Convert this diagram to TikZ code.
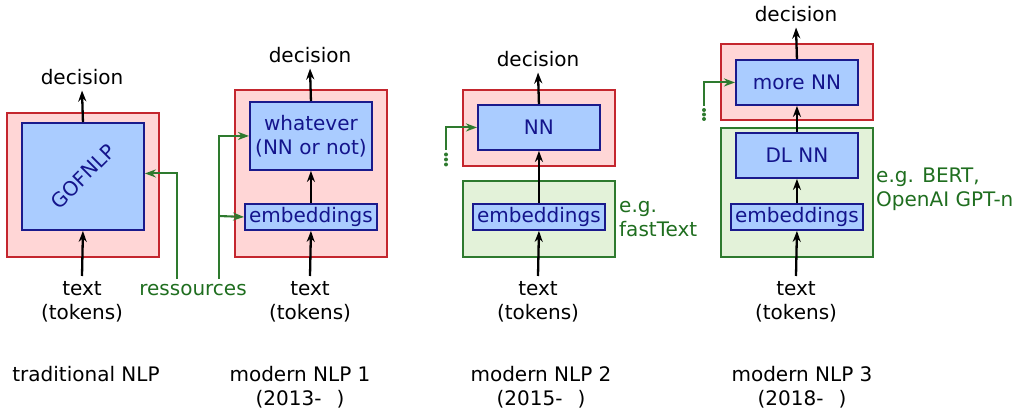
\documentclass[tikz,border=0pt]{standalone}
\usepackage{fontspec}
\setmainfont{DejaVu Sans}
\usetikzlibrary{arrows.meta,calc}
\definecolor{redF}{HTML}{FFD6D6}
\definecolor{redB}{HTML}{C4262E}
\definecolor{blueF}{HTML}{AACCFF}
\definecolor{blueB}{HTML}{1A1A8C}
\definecolor{blueT}{HTML}{14148C}
\definecolor{greenF}{HTML}{E3F2D9}
\definecolor{greenB}{HTML}{2E7A2E}
\definecolor{greenT}{HTML}{1F6E1F}
\tikzset{
  redbox/.style={draw=redB, fill=redF, line width=2pt, inner sep=0pt, anchor=north west},
  greenbox/.style={draw=greenB, fill=greenF, line width=2pt, inner sep=0pt, anchor=north west},
  bluebox/.style={draw=blueB, fill=blueF, line width=1.9pt, inner sep=0pt, anchor=north west,
    text=blueT, align=center},
  lbl/.style={inner sep=5pt, align=center},
  glbl/.style={inner sep=0pt, align=left, text=greenT, anchor=base west},
  flow/.style={line width=2.3pt, -{Stealth[length=11pt,width=8pt,inset=3.5pt]}},
  gflow/.style={line width=2.1pt, draw=greenB, -{Stealth[length=11pt,width=8pt,inset=3.5pt]}},
  gdot/.style={fill=greenB, draw=none},
}
\begin{document}
\begin{tikzpicture}[x=1pt,y=-1pt,font=\fontsize{20}{24}\selectfont]
\useasboundingbox (0,0) rectangle (1015,409);

% ---------- traditional NLP ----------
\node[redbox, minimum width=152pt, minimum height=144pt] (red1) at (6,112) {};
\node[bluebox, minimum width=122pt, minimum height=107pt] (blue1) at (21,122) {};
\node[rotate=45, text=blueT, inner sep=0pt] (gof) at (blue1.center) {GOFNLP};
\node[lbl, anchor=base] (dec1) at (82,85) {decision};
\node[lbl, anchor=north] (t1) at (82,276) {text\\(tokens)};
\draw[flow] (t1.north) -- (blue1.south);
\draw[flow] (blue1.north) -- (dec1.south);

% resources feeding the boxes
\node[inner sep=0pt, text=greenT, anchor=base] (ress) at (193,295) {ressources};
\coordinate (r1) at (177,279);
\coordinate (r2) at (219,279);
\coordinate (rb) at (219,216);

% ---------- modern NLP 1 ----------
\node[redbox, minimum width=152pt, minimum height=167pt] (red2) at (234,89) {};
\node[bluebox, minimum width=122pt, minimum height=68pt] (what2) at (249,101) {whatever\\(NN or not)};
\node[bluebox, minimum width=132pt, minimum height=26pt] (emb2) at (244,203) {embeddings};
\node[lbl, anchor=base] (dec2) at (310,63) {decision};
\node[lbl, anchor=north] (t2) at (310,276) {text\\(tokens)};
\draw[flow] (t2.north) -- (emb2.south);
\draw[flow] (emb2.north) -- (what2.south);
\draw[flow] (what2.north) -- (dec2.south);

\draw[gflow] (r1) |- ([yshift=3pt]blue1.east);
\draw[gflow] (r2) |- (what2.west);
\draw[gflow] (rb) -- (emb2.west);

% ---------- modern NLP 2 ----------
\node[redbox, minimum width=152pt, minimum height=76pt] (red3) at (462,89) {};
\node[bluebox, minimum width=122pt, minimum height=45pt] (nn3) at (477,104) {NN};
\node[greenbox, minimum width=152pt, minimum height=76pt] (green3) at (462,180) {};
\node[bluebox, minimum width=132pt, minimum height=26pt] (emb3) at (472,203) {embeddings};
\node[lbl, anchor=base] (dec3) at (538,67) {decision};
\node[lbl, anchor=north] (t3) at (538,276) {text\\(tokens)};
\node[glbl] (eg3) at (619,236) {e.g.\\fastText};
\draw[flow] (t3.north) -- (emb3.south);
\draw[flow] (emb3.north) -- (nn3.south);
\draw[flow] (nn3.north) -- (dec3.south);
\coordinate (s3) at (446,150);
\draw[gflow] (s3) |- (nn3.west);
\foreach \yy in {154.5,159.5,164.5} \fill[gdot] (446,\yy) circle (2pt);

% ---------- modern NLP 3 ----------
\node[redbox, minimum width=152pt, minimum height=76pt] (red4) at (720,43) {};
\node[bluebox, minimum width=122pt, minimum height=45pt] (more4) at (735,59) {more NN};
\node[greenbox, minimum width=152pt, minimum height=129pt] (green4) at (720,127) {};
\node[bluebox, minimum width=122pt, minimum height=45pt] (dl4) at (735,132) {DL NN};
\node[bluebox, minimum width=132pt, minimum height=26pt] (emb4) at (730,203) {embeddings};
\node[lbl, anchor=base] (dec4) at (796,22) {decision};
\node[lbl, anchor=north] (t4) at (796,276) {text\\(tokens)};
\node[glbl] (eg4) at (876,206) {e.g. BERT,\\OpenAI GPT-n};
\draw[flow] (t4.north) -- (emb4.south);
\draw[flow] (emb4.north) -- (dl4.south);
\draw[flow] (dl4.north) -- (more4.south);
\draw[flow] (more4.north) -- (dec4.south);
\coordinate (s4) at (704,106);
\draw[gflow] (s4) |- (more4.west);
\foreach \yy in {110,114.5,119} \fill[gdot] (704,\yy) circle (2pt);

% ---------- captions ----------
\node[inner sep=0pt, anchor=base] (cap1) at (86,381) {traditional NLP};
\node[inner sep=0pt, anchor=base] (cap2) at (300,381) {modern NLP 1};
\node[inner sep=0pt, anchor=base] (yr2) at (300,405) {(2013-\hspace*{15pt})};
\node[inner sep=0pt, anchor=base] (cap3) at (541,381) {modern NLP 2};
\node[inner sep=0pt, anchor=base] (yr3) at (541,405) {(2015-\hspace*{15pt})};
\node[inner sep=0pt, anchor=base] (cap4) at (802,381) {modern NLP 3};
\node[inner sep=0pt, anchor=base] (yr4) at (802,405) {(2018-\hspace*{15pt})};
\end{tikzpicture}
\end{document}
